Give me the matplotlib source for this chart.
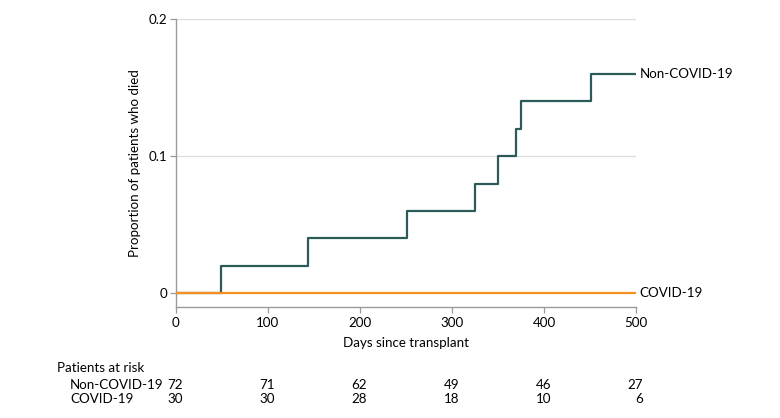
import matplotlib.pyplot as plt
import matplotlib.transforms as mtransforms

plt.rcParams['font.family'] = ['Lato', 'DejaVu Sans']

# step times (days) and cumulative proportion who died
non_covid_days = [0, 49, 143, 251, 325, 350, 370, 375, 451, 500]
non_covid_prop = [0, 0.02, 0.04, 0.06, 0.08, 0.10, 0.12, 0.14, 0.16, 0.16]
covid_days = [0, 500]
covid_prop = [0, 0]

risk_days = [0, 100, 200, 300, 400, 500]
risk_non_covid = [72, 71, 62, 49, 46, 27]
risk_covid = [30, 30, 28, 18, 10, 6]

TEAL = '#2b5a58'
ORANGE = '#f7901e'
GREY = '#9a9a9a'
FS = 9.6

W, H = 780, 418
fig = plt.figure(figsize=(W / 100, H / 100), dpi=100)
ax = fig.add_axes([176 / W, 1 - 307 / H, (636 - 176) / W, (307 - 19) / H])

ax.step(non_covid_days, non_covid_prop, where='post', color=TEAL, lw=1.6,
        zorder=3)
ax.plot(covid_days, covid_prop, color=ORANGE, lw=1.6, zorder=3)

ax.set_xlim(0, 500)
ax.set_ylim(-0.01, 0.2)
ax.set_xticks(risk_days)
ax.set_yticks([0, 0.1, 0.2])
ax.set_yticklabels(['0', '0.1', '0.2'])
for y in [0.1, 0.2]:
    ax.axhline(y, color='#dcdcdc', lw=0.9, zorder=1)

for s in ['top', 'right']:
    ax.spines[s].set_visible(False)
for s in ['left', 'bottom']:
    ax.spines[s].set_color(GREY)
    ax.spines[s].set_linewidth(1.0)
ax.tick_params(colors=GREY, labelcolor='black', labelsize=FS, length=4,
               width=0.9)
ax.tick_params(axis='x', pad=3)
ax.tick_params(axis='y', pad=2)

ax.set_xlabel('Days since transplant', fontsize=FS, labelpad=6)
ax.set_ylabel('Proportion of patients who died', fontsize=FS, labelpad=6)

ax.text(504, 0.16, 'Non-COVID-19', fontsize=FS, va='center', ha='left',
        clip_on=False)
ax.text(504, 0.0, 'COVID-19', fontsize=FS, va='center', ha='left',
        clip_on=False)

# patients at risk table
fig.text(57 / W, 1 - 368 / H, 'Patients at risk', fontsize=FS, va='center')
fig.text(70 / W, 1 - 385 / H, 'Non-COVID-19', fontsize=FS, va='center')
fig.text(70 / W, 1 - 399 / H, 'COVID-19', fontsize=FS, va='center')

shift = mtransforms.ScaledTranslation(7 / 100, 0, fig.dpi_scale_trans)
trans = mtransforms.blended_transform_factory(ax.transData, fig.transFigure)
for d, a, b in zip(risk_days, risk_non_covid, risk_covid):
    ax.text(d, 1 - 385 / H, str(a), fontsize=FS, ha='right', va='center',
            transform=trans + shift, clip_on=False)
    ax.text(d, 1 - 399 / H, str(b), fontsize=FS, ha='right', va='center',
            transform=trans + shift, clip_on=False)

fig.savefig('out.png', dpi=100)
